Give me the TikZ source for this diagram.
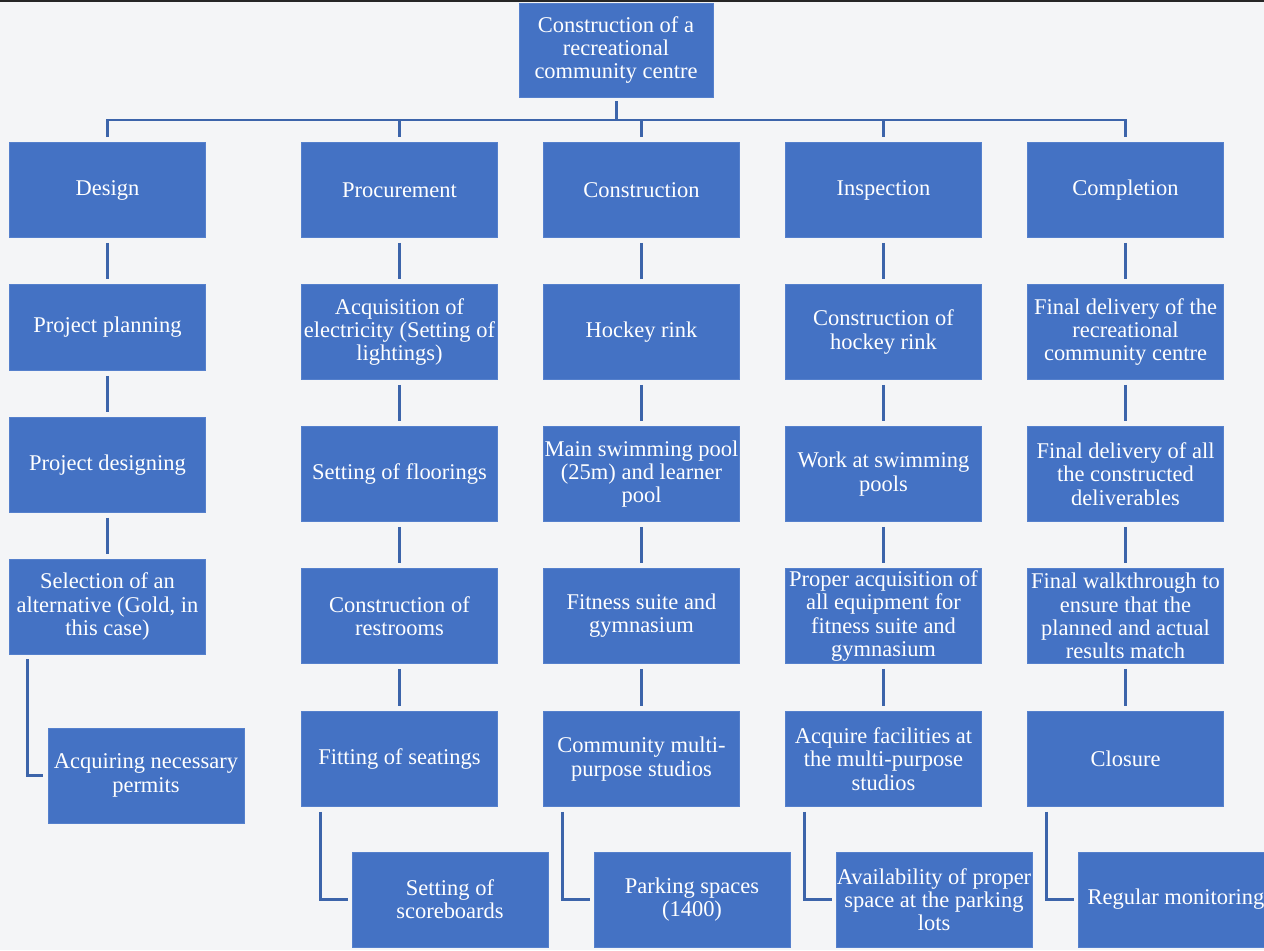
\documentclass[tikz,border=0pt]{standalone}
\usepackage{fontspec}
\setmainfont{LiberationSerif}[Extension=.ttf,UprightFont=*-Regular,BoldFont=*-Bold,ItalicFont=*-Italic,BoldItalicFont=*-BoldItalic]
\definecolor{boxblue}{HTML}{4472C4}
\definecolor{boxedge}{HTML}{5580CC}
\definecolor{linkblue}{HTML}{3C64AA}
\definecolor{bg}{HTML}{F4F5F7}
\tikzset{
  wbs/.style={rectangle, fill=boxblue, draw=boxedge, line width=0.4pt, text=white,
    minimum width=3.92cm, minimum height=1.9cm, inner sep=0pt, align=center,
    font=\fontsize{12.8pt}{13.2pt}\selectfont},
  link/.style={draw=linkblue, line width=1.7pt},
  stub/.style={link, shorten <=0.1cm, shorten >=0.1cm}
}
\begin{document}
\begin{tikzpicture}[x=0.02cm,y=-0.02cm]
\useasboundingbox (0,0) rectangle (1264,950);
\clip (0,0) rectangle (1264,950);
\fill[bg] (0,0) rectangle (1264,950);
\fill[black!85] (0,0) rectangle (1264,2.5);

% top
\node[wbs, minimum width=3.88cm, minimum height=1.88cm] (top) at (616,50) {Construction of a\\recreational\\community centre};

% level 1
\node[wbs] (design) at (107.5,190) {Design};
\node[wbs] (proc)   at (399.5,190) {Procurement};
\node[wbs] (cons)   at (641.5,190) {Construction};
\node[wbs] (insp)   at (883.5,190) {Inspection};
\node[wbs] (compl)  at (1125.5,190) {Completion};

% Design column
\node[wbs, minimum height=1.72cm] (a2) at (107.5,327.5) {Project planning};
\node[wbs] (a3) at (107.5,465) {Project designing};
\node[wbs] (a4) at (107.5,606.5) {Selection of an\\alternative (Gold, in\\this case)};
\node[wbs] (a5) at (146,775.5) {Acquiring necessary\\permits};

% Procurement column
\node[wbs] (b2) at (399.5,332) {Acquisition of\\electricity (Setting of\\lightings)};
\node[wbs] (b3) at (399.5,474) {Setting of floorings};
\node[wbs] (b4) at (399.5,616) {Construction of\\restrooms};
\node[wbs] (b5) at (399.5,759) {Fitting of seatings};
\node[wbs] (b6) at (450,899.5) {Setting of\\scoreboards};

% Construction column
\node[wbs] (c2) at (641.5,332) {Hockey rink};
\node[wbs] (c3) at (641.5,474) {Main swimming pool\\(25m) and learner\\pool};
\node[wbs] (c4) at (641.5,616) {Fitness suite and\\gymnasium};
\node[wbs] (c5) at (641.5,759) {Community multi-\\purpose studios};
\node[wbs] (c6) at (692,899.5) {Parking spaces\\(1400)};

% Inspection column
\node[wbs] (d2) at (883.5,332) {Construction of\\hockey rink};
\node[wbs] (d3) at (883.5,474) {Work at swimming\\pools};
\node[wbs] (d4) at (883.5,616) {Proper acquisition of\\all equipment for\\fitness suite and\\gymnasium};
\node[wbs] (d5) at (883.5,759) {Acquire facilities at\\the multi-purpose\\studios};
\node[wbs] (d6) at (934,899.5) {Availability of proper\\space at the parking\\lots};

% Completion column
\node[wbs] (e2) at (1125.5,332) {Final delivery of the\\recreational\\community centre};
\node[wbs] (e3) at (1125.5,474) {Final delivery of all\\the constructed\\deliverables};
\node[wbs] (e4) at (1125.5,616) {Final walkthrough to\\ensure that the\\planned and actual\\results match};
\node[wbs] (e5) at (1125.5,759) {Closure};
\node[wbs] (e6) at (1176,899.5) {Regular monitoring};

% bus from top
\coordinate (bus) at (616,120);
\draw[link] ([yshift=-0.08cm]top.south) -- (bus);
\draw[link] ([yshift=0.1cm]design.north) |- (bus) -| ([yshift=0.1cm]compl.north);
\foreach \n in {proc,cons,insp} {
  \draw[link] (\n.north |- bus) -- ([yshift=0.1cm]\n.north);
}

% vertical chains
\draw[stub] (design) -- (a2);
\draw[stub] (a2) -- (a3);
\draw[stub] (a3) -- (a4);
\draw[stub] (proc) -- (b2);
\draw[stub] (b2) -- (b3);
\draw[stub] (b3) -- (b4);
\draw[stub] (b4) -- (b5);
\draw[stub] (cons) -- (c2);
\draw[stub] (c2) -- (c3);
\draw[stub] (c3) -- (c4);
\draw[stub] (c4) -- (c5);
\draw[stub] (insp) -- (d2);
\draw[stub] (d2) -- (d3);
\draw[stub] (d3) -- (d4);
\draw[stub] (d4) -- (d5);
\draw[stub] (compl) -- (e2);
\draw[stub] (e2) -- (e3);
\draw[stub] (e3) -- (e4);
\draw[stub] (e4) -- (e5);

% elbow connectors
\draw[link] ([xshift=0.36cm,yshift=-0.1cm]a4.south west) |- ([xshift=-0.09cm]a5.west);
\draw[link] ([xshift=0.38cm,yshift=-0.1cm]b5.south west) |- ([xshift=-0.08cm]b6.west);
\draw[link] ([xshift=0.38cm,yshift=-0.1cm]c5.south west) |- ([xshift=-0.08cm]c6.west);
\draw[link] ([xshift=0.38cm,yshift=-0.1cm]d5.south west) |- ([xshift=-0.08cm]d6.west);
\draw[link] ([xshift=0.38cm,yshift=-0.1cm]e5.south west) |- ([xshift=-0.08cm]e6.west);
\end{tikzpicture}
\end{document}
